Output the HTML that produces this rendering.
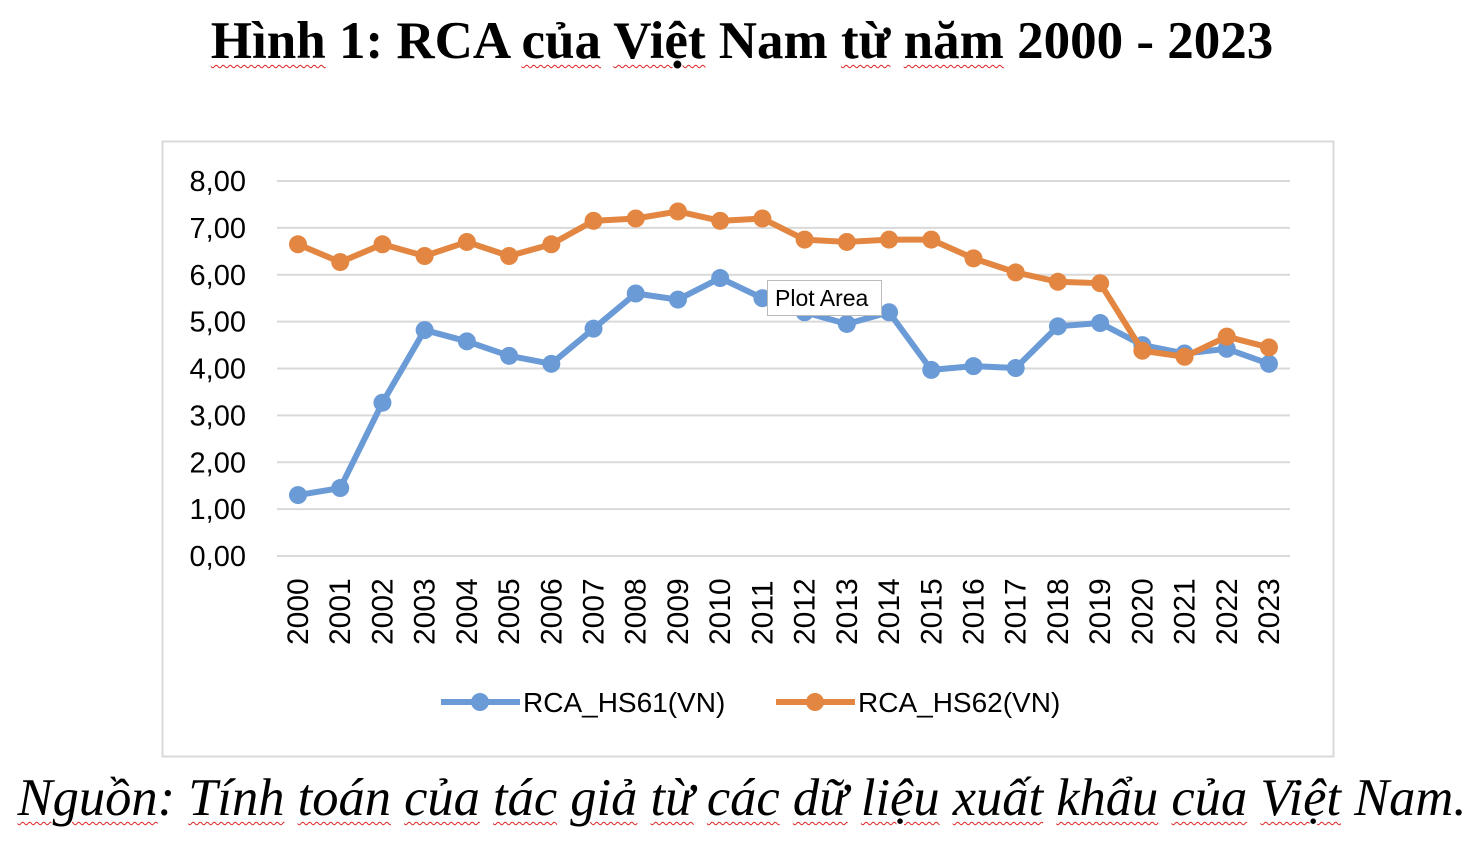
<!DOCTYPE html>
<html><head><meta charset="utf-8">
<style>
html,body{margin:0;padding:0;background:#fff;}
body{width:1484px;height:844px;position:relative;overflow:hidden;}
.t{position:absolute;left:0;width:1484px;text-align:center;font-family:"Liberation Serif","Noto Serif CJK SC",serif;}
.title{top:11px;font-size:53px;font-weight:bold;color:#000;}
.cap{top:770px;font-size:52.5px;font-style:italic;color:#000;white-space:nowrap;line-height:56px;}
.w{text-decoration:underline wavy #d22;text-decoration-thickness:1px;text-underline-offset:6px;}
</style></head><body>
<div class="t title"><span class="w">Hình</span> 1: RCA <span class="w">của</span> <span class="w">Việt</span> Nam <span class="w">từ</span> <span class="w">năm</span> 2000 - 2023</div>
<svg width="1484" height="844" style="position:absolute;left:0;top:0" font-family="Liberation Sans, DejaVu Sans, sans-serif">
<rect x="162.5" y="141.5" width="1171" height="615" fill="none" stroke="#d9d9d9" stroke-width="2"/>
<g stroke="#d9d9d9" stroke-width="2" id="grid"></g>
<g id="yl" font-size="29" fill="#000" text-anchor="end"></g>
<g id="xl" font-size="30" fill="#000"></g>
<g id="series"></g>
<g font-size="28" fill="#000">
<line x1="441" y1="702" x2="520" y2="702" stroke="#6a9bd6" stroke-width="6"/>
<circle cx="480" cy="702" r="9" fill="#6a9bd6"/>
<text x="523" y="712">RCA_HS61(VN)</text>
<line x1="776" y1="702" x2="855" y2="702" stroke="#e38641" stroke-width="6"/>
<circle cx="815" cy="702" r="9" fill="#e38641"/>
<text x="858" y="712">RCA_HS62(VN)</text>
</g>
<rect x="767.5" y="280.5" width="114" height="35" fill="#fff" stroke="#bbb"/>
<text x="775" y="306" font-size="23" fill="#000">Plot Area</text>
</svg>
<div class="t cap"><span class="w">Nguồn</span>: <span class="w">Tính</span> <span class="w">toán</span> <span class="w">của</span> <span class="w">tác</span> <span class="w">giả</span> <span class="w">từ</span> <span class="w">các</span> <span class="w">dữ</span> <span class="w">liệu</span> <span class="w">xuất</span> <span class="w">khẩu</span> <span class="w">của</span> <span class="w">Việt</span> Nam.</div>
<script>
var NS="http://www.w3.org/2000/svg";
function el(p,n,a,txt){var e=document.createElementNS(NS,n);for(var k in a)e.setAttribute(k,a[k]);if(txt)e.textContent=txt;p.appendChild(e);return e;}
var y0=556,k=46.875,x0=298,dx=(1269-298)/23;
var g=document.getElementById("grid"),yl=document.getElementById("yl"),xl=document.getElementById("xl"),s=document.getElementById("series");
for(var i=0;i<=8;i++){var y=y0-i*k;el(g,"line",{x1:277,x2:1290,y1:y,y2:y});el(yl,"text",{x:246,y:y+10},i+",00");}
for(var j=0;j<24;j++){var x=x0+j*dx;el(xl,"text",{transform:"translate("+(x+10)+",645) rotate(-90)"},String(2000+j));}
var a=[1.30,1.45,3.27,4.82,4.58,4.27,4.10,4.85,5.60,5.47,5.93,5.50,5.20,4.95,5.20,3.97,4.05,4.01,4.90,4.97,4.50,4.32,4.42,4.10];
var b=[6.65,6.27,6.65,6.40,6.70,6.40,6.65,7.15,7.20,7.35,7.15,7.20,6.75,6.70,6.75,6.75,6.35,6.05,5.85,5.82,4.38,4.25,4.68,4.45];
function draw(d,c){var pts=d.map(function(v,j){return (x0+j*dx)+","+(y0-v*k);}).join(" ");
el(s,"polyline",{points:pts,fill:"none",stroke:c,"stroke-width":6,"stroke-linejoin":"round"});
d.forEach(function(v,j){el(s,"circle",{cx:x0+j*dx,cy:y0-v*k,r:9,fill:c});});}
draw(a,"#6a9bd6");draw(b,"#e38641");
</script>
</body></html>
